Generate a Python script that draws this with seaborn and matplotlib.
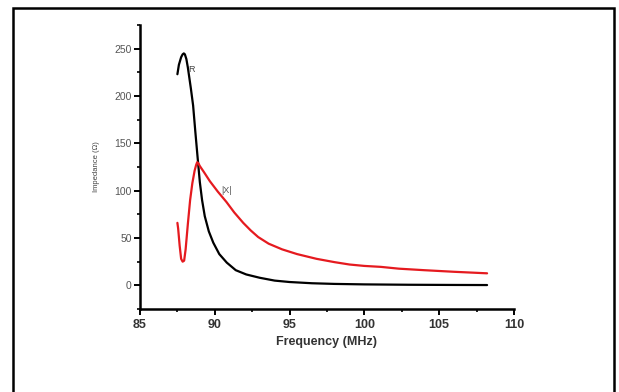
import matplotlib
matplotlib.use("Agg")
import matplotlib.pyplot as plt
from matplotlib.ticker import MultipleLocator
from matplotlib.patches import Rectangle
import seaborn as sns
import pandas as pd

# Data
r_freq = [87.50, 87.60, 87.75, 87.85, 87.93, 88.00, 88.10, 88.20, 88.40, 88.55, 88.70, 88.84,
          89.00, 89.15, 89.33, 89.60, 89.90, 90.30, 90.80, 91.40, 92.10, 93.00,
          94.00, 95.00, 96.50, 98.00, 100.0, 103.0, 106.0, 108.2]
r_vals = [223, 233, 241, 244, 245, 244, 239, 230, 208, 190, 162, 137,
          109, 90, 73, 57, 45, 33, 24, 16, 11.5, 8,
          5, 3.5, 2.2, 1.5, 1.0, 0.6, 0.4, 0.3]

x_freq = [87.50, 87.55, 87.65, 87.75, 87.85, 87.95, 88.05, 88.20, 88.35, 88.50,
          88.65, 88.75, 88.82, 88.90, 89.00, 89.30, 89.67, 90.20, 90.78, 91.30, 91.90, 92.40,
          92.90, 93.60, 94.50, 95.50, 96.80, 98.00, 99.00, 100.0, 101.1, 102.3,
          104.0, 106.0, 108.2]
x_vals = [66, 60, 42, 28, 25, 26, 38, 65, 90, 108,
          121, 127, 130, 129, 126, 119, 110, 99, 88, 77, 66, 58,
          51, 44, 38, 33, 28, 24.5, 22, 20.5, 19.5, 17.6,
          16, 14.3, 12.7]

x_ticks = [85, 90, 95, 100, 105, 110]
y_ticks = [0, 50, 100, 150, 200, 250]

sns.set_style("white")
plt.rcParams['font.family'] = ['Liberation Sans', 'DejaVu Sans']

fig = plt.figure(figsize=(6.19, 3.92), dpi=100)
ax = fig.add_axes([140/619, 1-309/392, (514-140)/619, (309-25)/392])

df_r = pd.DataFrame({"f": r_freq, "v": r_vals})
df_x = pd.DataFrame({"f": x_freq, "v": x_vals})
sns.lineplot(data=df_r, x="f", y="v", sort=False, color="black", linewidth=1.6, ax=ax)
sns.lineplot(data=df_x, x="f", y="v", sort=False, color="#e51a1f", linewidth=1.6, ax=ax)

ax.set_xlim(85, 110)
ax.set_ylim(-25, 275)
ax.set_xticks(x_ticks)
ax.set_yticks(y_ticks)
ax.xaxis.set_minor_locator(MultipleLocator(2.5))
ax.yaxis.set_minor_locator(MultipleLocator(25))
for s in ["top", "right"]:
    ax.spines[s].set_visible(False)
for s in ["left", "bottom"]:
    ax.spines[s].set_linewidth(1.8)
    ax.spines[s].set_color("black")
ax.tick_params(axis="both", which="major", direction="out", length=4, width=1.4,
               color="black", bottom=True, left=True)
ax.tick_params(axis="both", which="minor", direction="out", length=2.5, width=1.2,
               color="black", bottom=True, left=True)
ax.tick_params(axis="x", labelsize=9, labelcolor="#333333", pad=3)
ax.tick_params(axis="y", labelsize=7.5, labelcolor="#555555", pad=2)
for lbl in ax.get_xticklabels():
    lbl.set_fontweight("bold")

ax.set_xlabel("Frequency (MHz)", fontsize=9, fontweight="bold", color="#333333", labelpad=4)
ax.set_ylabel("Impedance (Ω)", fontsize=5.5, color="#444444", labelpad=10)

ax.text(88.2, 228, "R", fontsize=6.5, color="#444444", va="center", ha="left")
ax.text(90.4, 100, "|X|", fontsize=6.5, color="#555555", va="center", ha="left")

fig.patches.append(Rectangle((13/619, -0.01), (614-13)/619, 1.01 - 8/392,
                             transform=fig.transFigure, fill=False,
                             edgecolor="black", linewidth=1.8))

fig.savefig("out.png", dpi=100)
